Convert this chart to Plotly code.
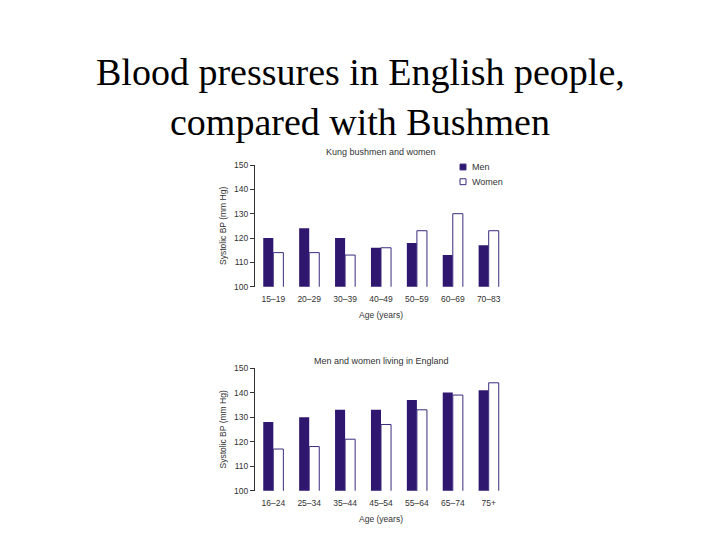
import plotly.graph_objects as go

# Kung bushmen (top panel)
kung_ages = ["15\u201319", "20\u201329", "30\u201339", "40\u201349", "50\u201359", "60\u201369", "70\u201383"]
kung_men = [120, 124, 120, 116, 118, 113, 117]
kung_women = [114, 114, 113, 116, 123, 130, 123]

# England (bottom panel)
eng_ages = ["16\u201324", "25\u201334", "35\u201344", "45\u201354", "55\u201364", "65\u201374", "75+"]
eng_men = [128, 130, 133, 133, 137, 140, 141]
eng_women = [117, 118, 121, 127, 133, 139, 144]

# page body has an 8px margin, so the figure is a bit smaller than the window
OFF = 8
W, H = 720 - 2 * OFF, 540 - 2 * OFF
PURPLE = "#2f176f"
EDGE = "#3d2b7c"
INK = "#333333"
SANS = "Liberation Sans, Arial, sans-serif"
SERIF = "Liberation Serif, Times New Roman, serif"


def px_x(v):
    # window pixel -> paper fraction
    return (v - OFF) / W


def px_y(v):
    return 1 - (v - OFF) / H


fig = go.Figure()

fig.add_trace(go.Bar(x=kung_ages, y=kung_men, name="Men", marker=dict(color=PURPLE, line=dict(width=0)),
                     xaxis="x", yaxis="y"))
fig.add_trace(go.Bar(x=kung_ages, y=kung_women, name="Women",
                     marker=dict(color="white", line=dict(color=EDGE, width=1)),
                     xaxis="x", yaxis="y"))
fig.add_trace(go.Bar(x=eng_ages, y=eng_men, name="Men",
                     marker=dict(color=PURPLE, line=dict(width=0)), xaxis="x2", yaxis="y2"))
fig.add_trace(go.Bar(x=eng_ages, y=eng_women, name="Women",
                     marker=dict(color="white", line=dict(color=EDGE, width=1)), xaxis="x2", yaxis="y2"))

xcommon = dict(
    type="category", range=[-0.51, 6.51], showline=False, showgrid=False, ticks="",
    tickfont=dict(family=SANS, size=8.5, color=INK), ticklabelstandoff=6,
    title=dict(text="Age (years)", font=dict(family=SANS, size=8.5, color=INK), standoff=8),
)
ycommon = dict(
    range=[100, 150], dtick=10, showline=True, linecolor=INK, linewidth=1, showgrid=False,
    zeroline=False, ticks="outside", ticklen=4, tickcolor=INK,
    tickfont=dict(family=SANS, size=8.5, color=INK),
    title=dict(text="Systolic BP (mm Hg)", font=dict(family=SANS, size=8.5, color=INK), standoff=6),
)

annotations = [
    dict(text="Blood pressures in English people,", x=0.5, y=px_y(68)),
    dict(text="compared with Bushmen", x=0.5, y=px_y(119)),
]
for a in annotations:
    a["font"] = dict(family=SERIF, size=38, color="black")
for label, yc in [("Kung bushmen and women", 150), ("Men and women living in England", 363)]:
    annotations.append(dict(text=label, x=px_x(381), y=px_y(yc),
                            font=dict(family=SANS, size=9, color=INK)))

# small legend, top right of the upper panel
shapes = []
for name, fill, yc in [("Men", PURPLE, 165), ("Women", "white", 180)]:
    shapes.append(dict(type="rect", xref="paper", yref="paper",
                       x0=px_x(460), x1=px_x(466), y0=px_y(yc + 3), y1=px_y(yc - 3),
                       fillcolor=fill, line=dict(color=EDGE, width=1)))
    annotations.append(dict(text=name, x=px_x(469.5), y=px_y(yc), xanchor="left",
                            font=dict(family=SANS, size=9, color=INK)))

for a in annotations:
    a.update(xref="paper", yref="paper", showarrow=False, yanchor="middle")
    a.setdefault("xanchor", "center")

fig.update_layout(
    xaxis=dict(domain=[px_x(255), px_x(507)], anchor="y", **xcommon),
    yaxis=dict(domain=[px_y(287), px_y(163)], anchor="x", **ycommon),
    xaxis2=dict(domain=[px_x(255), px_x(507)], anchor="y2", **xcommon),
    yaxis2=dict(domain=[px_y(495), px_y(370)], anchor="x2", **ycommon),
    barmode="group", bargap=0.44, bargroupgap=0,
    width=W, height=H, margin=dict(l=0, r=0, t=0, b=0),
    paper_bgcolor="white", plot_bgcolor="white",
    showlegend=False,
    annotations=annotations,
    shapes=shapes,
)

fig.write_html("out.html")
